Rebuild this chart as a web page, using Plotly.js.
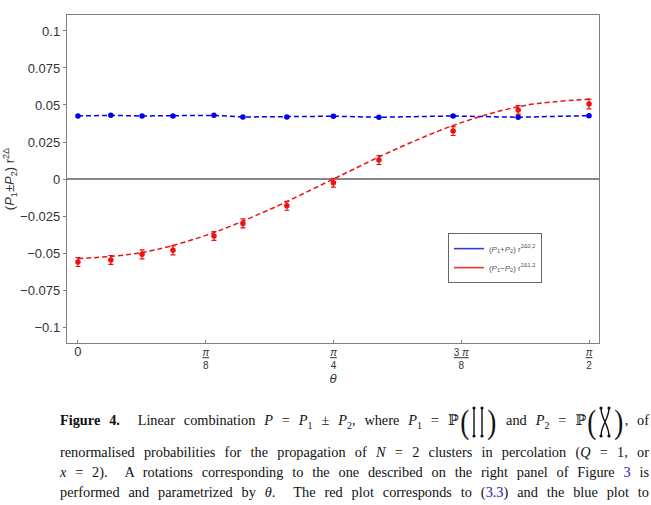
<!DOCTYPE html>
<html>
<head>
<meta charset="utf-8">
<script src="https://cdn.plot.ly/plotly-3.0.1.min.js"></script>
<style>
  html, body { margin:0; padding:0; background:#fff; width:651px; height:505px; overflow:hidden; }
  #plot { position:absolute; left:0; top:0; width:651px; height:505px; }
  .cap { position:absolute; left:60px; width:589px; white-space:nowrap; text-align:justify; text-align-last:justify;
         font-family:"Liberation Serif","DejaVu Serif",serif; font-size:14.3px; line-height:18px; color:#111; }
  .cap i { font-style:italic; }
  .blue { color:#2222bb; }
  .paren { display:inline-block; font-size:34px; line-height:34px; vertical-align:middle; transform:scaleX(0.8); }
  .diag { display:inline-block; vertical-align:middle; }
</style>
</head>
<body>
<div id="plot"></div>
<div class="cap" style="top:405px;"><b>Figure 4.</b>&nbsp; Linear combination <i>P</i> = <i>P</i><sub style="font-size:10px">1</sub> ± <i>P</i><sub style="font-size:10px">2</sub>, where <i>P</i><sub style="font-size:10px">1</sub> = ℙ<span class="paren">(</span><svg class="diag" width="16" height="34" viewBox="0 0 16 34"><line x1="4" y1="3" x2="4" y2="31" stroke="#111" stroke-width="1.4"/><line x1="12" y1="3" x2="12" y2="31" stroke="#111" stroke-width="1.4"/><circle cx="4" cy="3" r="1.6" fill="#111"/><circle cx="12" cy="3" r="1.6" fill="#111"/><circle cx="4" cy="31" r="1.6" fill="#111"/><circle cx="12" cy="31" r="1.6" fill="#111"/></svg><span class="paren">)</span> and <i>P</i><sub style="font-size:10px">2</sub> = ℙ<span class="paren">(</span><svg class="diag" width="16" height="34" viewBox="0 0 16 34"><path d="M4 3 C4 14 12 20 12 31 M12 3 C12 14 4 20 4 31" stroke="#111" stroke-width="1.4" fill="none"/><circle cx="4" cy="3" r="1.6" fill="#111"/><circle cx="12" cy="3" r="1.6" fill="#111"/><circle cx="4" cy="31" r="1.6" fill="#111"/><circle cx="12" cy="31" r="1.6" fill="#111"/></svg><span class="paren">)</span>, of</div>
<div class="cap" style="top:443px;">renormalised probabilities for the propagation of <i>N</i> = 2 clusters in percolation (<i>Q</i> = 1, or</div>
<div class="cap" style="top:463px;"><i>x</i> = 2).&nbsp; A rotations corresponding to the one described on the right panel of Figure <span class="blue">3</span> is</div>
<div class="cap" style="top:483px;">performed and parametrized by <i>θ</i>.&nbsp; The red plot corresponds to (<span class="blue">3.3</span>) and the blue plot to</div>
<script>
// ---- data ----
const theta      = [0, 0.101, 0.197, 0.292, 0.418, 0.507, 0.642, 0.785, 0.925, 1.153, 1.353, 1.5708];
const sumVals    = [0.0426, 0.0430, 0.0426, 0.0426, 0.0430, 0.0419, 0.0419, 0.0424, 0.0417, 0.0426, 0.0417, 0.0428];
const diffVals   = [-0.0561, -0.0547, -0.0509, -0.0482, -0.0385, -0.0300, -0.0181, -0.0025, 0.0128, 0.0324, 0.0466, 0.0507];
const diffErr    = [0.003, 0.003, 0.003, 0.003, 0.003, 0.003, 0.003, 0.003, 0.003, 0.003, 0.003, 0.0033];
const sumErr     = [0.0007, 0.0007, 0.0007, 0.0007, 0.0007, 0.0007, 0.0007, 0.0007, 0.0007, 0.0007, 0.0007, 0.0007];
const fitTheta   = [0, 0.19635, 0.3927, 0.58905, 0.7854, 0.98175, 1.1781, 1.37445, 1.5708];
const fitVals    = [-0.0538, -0.0497, -0.0381, -0.0206, 0.0, 0.0206, 0.0381, 0.0497, 0.0538];
const yTickVals  = [0.1, 0.075, 0.05, 0.025, 0, -0.025, -0.05, -0.075, -0.1];
const yTickText  = ["0.1", "0.075", "0.05", "0.025", "0", "−0.025", "−0.05", "−0.075", "−0.1"];
const xTickVals  = [0, Math.PI/8, Math.PI/4, 3*Math.PI/8, Math.PI/2];
const xTickText  = ["<span style='font-size:13px'>0</span>",
  "<u><i>π</i></u><br>8",
  "<u><i>π</i></u><br>4",
  "<u>3 <i>π</i></u><br>8",
  "<u><i>π</i></u><br>2"];
const legendNames = [
  "(<i>P</i><sub>1</sub>+<i>P</i><sub>2</sub>) r<sup>2Δ0,2</sup>",
  "(<i>P</i><sub>1</sub>−<i>P</i><sub>2</sub>) r<sup>2Δ1,2</sup>"];

const BLUE = "#0000ee", RED = "#ee1111";
const traces = [
  { x: theta, y: sumVals, type: "scatter", mode: "lines", showlegend: false,
    line: { color: BLUE, width: 1.5, dash: "5px,3px" }, hoverinfo: "skip" },
  { x: theta, y: sumVals, type: "scatter", mode: "markers", showlegend: false,
    marker: { color: BLUE, size: 5.5, symbol: "circle" },
    error_y: { type: "data", array: sumErr, color: BLUE, thickness: 1.2, width: 2 } },
  { x: fitTheta, y: fitVals, type: "scatter", mode: "lines", showlegend: false,
    line: { color: RED, width: 1.5, dash: "5px,3px", shape: "spline", smoothing: 1.0 }, hoverinfo: "skip" },
  { x: theta, y: diffVals, type: "scatter", mode: "markers", showlegend: false,
    marker: { color: RED, size: 5.5, symbol: "circle" },
    error_y: { type: "data", array: diffErr, color: RED, thickness: 1.2, width: 2.5 } },
  { x: [null], y: [null], type: "scatter", mode: "lines", name: legendNames[0],
    line: { color: "#3a3ad8", width: 1.6 } },
  { x: [null], y: [null], type: "scatter", mode: "lines", name: legendNames[1],
    line: { color: "#ee3333", width: 1.6 } }
];

const layout = {
  width: 651, height: 505,
  margin: { l: 67, r: 52, t: 15, b: 162 },
  paper_bgcolor: "#fff", plot_bgcolor: "#fff",
  font: { family: "Liberation Sans, Arial, sans-serif", size: 13, color: "#333" },
  showlegend: true,
  legend: { x: 0.716, y: 0.335, xanchor: "left", yanchor: "top",
    bgcolor: "#fff", bordercolor: "#666", borderwidth: 1,
    font: { size: 8, color: "#555" }, itemwidth: 30, tracegroupgap: 0 },
  xaxis: {
    range: [-0.0337, 1.6014], showgrid: false, zeroline: false,
    showline: true, mirror: true, linecolor: "#808080", linewidth: 1.2,
    ticks: "inside", ticklen: 3, tickcolor: "#808080",
    tickmode: "array", tickvals: xTickVals, ticktext: xTickText,
    tickfont: { size: 10, color: "#333" },
    title: { text: "<i>θ</i>", font: { size: 13, color: "#333" }, standoff: 3 }
  },
  yaxis: {
    range: [-0.1108, 0.1108], showgrid: false,
    zeroline: true, zerolinecolor: "#888", zerolinewidth: 1.5,
    showline: true, mirror: true, linecolor: "#808080", linewidth: 1.2,
    ticks: "outside", ticklen: 3, tickcolor: "#808080",
    tickmode: "array", tickvals: yTickVals, ticktext: yTickText,
    tickfont: { size: 13, color: "#333" },
    title: { text: "(<i>P</i><sub>1</sub>±<i>P</i><sub>2</sub>) r<sup>2Δ</sup>", font: { size: 13, color: "#333" }, standoff: 2 }
  }
};

Plotly.newPlot("plot", traces, layout, { staticPlot: true, displayModeBar: false });
</script>
</body>
</html>
